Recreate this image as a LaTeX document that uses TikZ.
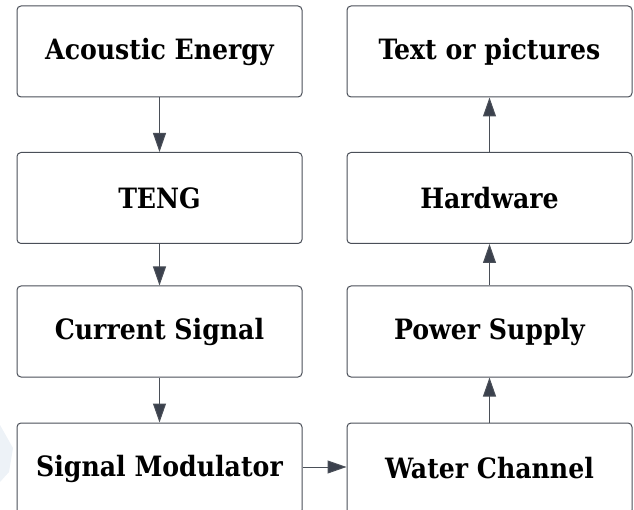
\documentclass[tikz,border=0pt]{standalone}
\usepackage{fontspec}
\newfontfamily\boxfont{DejaVu Serif Condensed}
\usetikzlibrary{arrows.meta}
\definecolor{edge}{HTML}{4A4F58}
\definecolor{tip}{HTML}{3B414D}
\definecolor{wm}{HTML}{EDF2F7}
\begin{document}
\begin{tikzpicture}[x=1pt,y=-1pt,
  stepbox/.style={draw=edge, line width=1pt, rounded corners=4pt, fill=white,
    minimum width=285pt, minimum height=91pt, inner sep=0pt,
    font=\boxfont\bfseries\fontsize{28}{32}\selectfont, text=black},
  flow/.style={draw=edge, line width=1pt, -{Triangle[length=19pt,width=13pt,fill=tip]}}]
\useasboundingbox (0,0) rectangle (634,510);
\clip (0,0) rectangle (634,510);
\fill[wm] (0,425) -- (13,448) -- (9,472) -- (0,482) -- cycle;
\node[stepbox] (ae) at (159.5,51.5) {Acoustic Energy};
\node[stepbox] (teng) at (159.5,198) {TENG};
\node[stepbox] (cs) at (159.5,331.5) {Current Signal};
\node[stepbox] (sm) at (159.5,468.5) {Signal Modulator};
\node[stepbox] (tp) at (489.5,51.5) {Text or pictures};
\node[stepbox] (hw) at (489.5,198) {Hardware};
\node[stepbox] (ps) at (489.5,331.5) {Power Supply};
\node[stepbox] (wc) at (489.5,468.5) {Water Channel};
\draw[flow] (ae) -- (teng);
\draw[flow] (teng) -- (cs);
\draw[flow] (cs) -- (sm);
\draw[flow] (sm.east |- 0,467) -- (wc.west |- 0,467);
\draw[flow] (wc) -- (ps);
\draw[flow] (ps) -- (hw);
\draw[flow] (hw) -- (tp);
\end{tikzpicture}
\end{document}
